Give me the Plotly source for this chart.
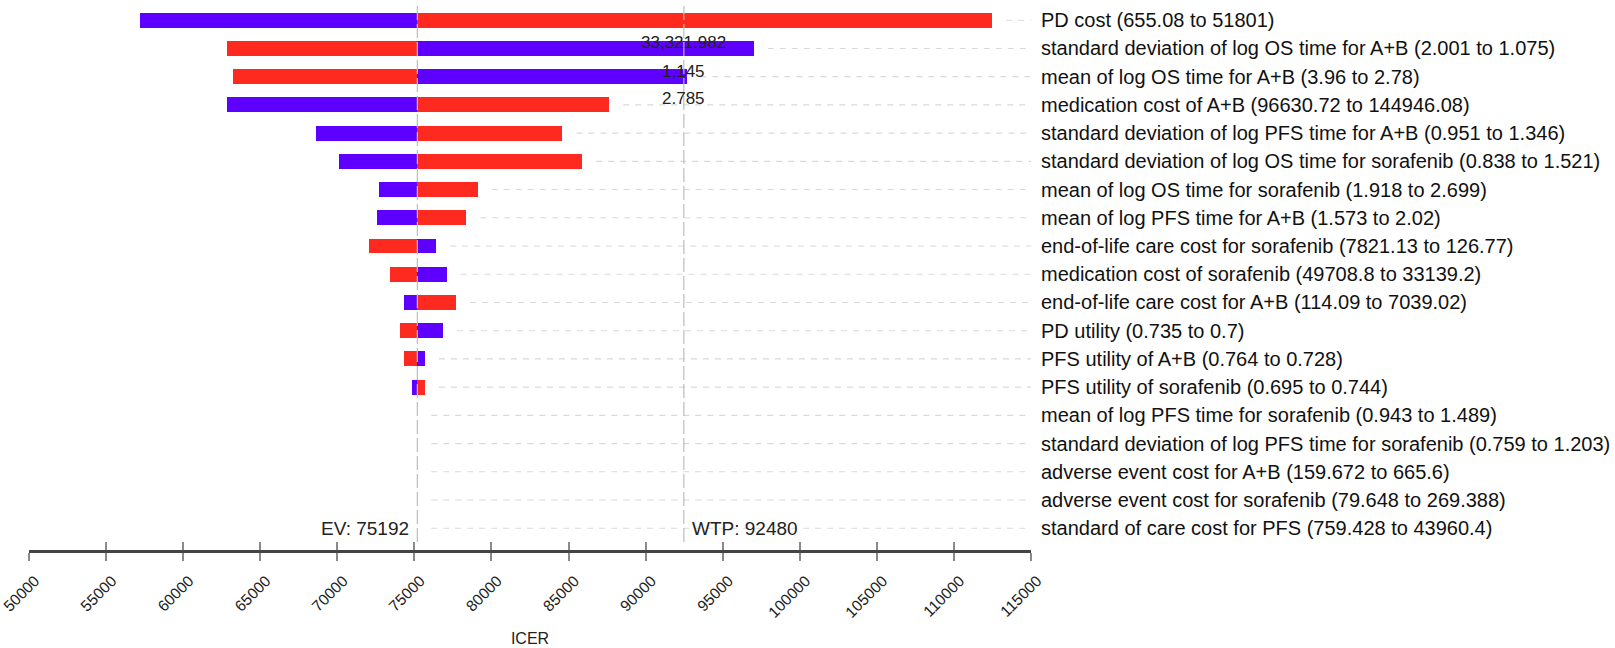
import plotly.graph_objects as go

# ---- data ----
params = [
    "PD cost (655.08 to 51801)",
    "standard deviation of log OS time for A+B (2.001 to 1.075)",
    "mean of log OS time for A+B (3.96 to 2.78)",
    "medication cost of A+B (96630.72 to 144946.08)",
    "standard deviation of log PFS time for A+B (0.951 to 1.346)",
    "standard deviation of log OS time for sorafenib (0.838 to 1.521)",
    "mean of log OS time for sorafenib (1.918 to 2.699)",
    "mean of log PFS time for A+B (1.573 to 2.02)",
    "end-of-life care cost for sorafenib (7821.13 to 126.77)",
    "medication cost of sorafenib (49708.8 to 33139.2)",
    "end-of-life care cost for A+B (114.09 to 7039.02)",
    "PD utility (0.735 to 0.7)",
    "PFS utility of A+B (0.764 to 0.728)",
    "PFS utility of sorafenib (0.695 to 0.744)",
    "mean of log PFS time for sorafenib (0.943 to 1.489)",
    "standard deviation of log PFS time for sorafenib (0.759 to 1.203)",
    "adverse event cost for A+B (159.672 to 665.6)",
    "adverse event cost for sorafenib (79.648 to 269.388)",
    "standard of care cost for PFS (759.428 to 43960.4)",
]
ev = 75192
wtp = 92480
icer_blue = [57227, 97022, 92654, 62861, 68596, 70133, 72700, 72590, 76418, 77084,
             74332, 76869, 75687, 74826, 75192, 75192, 75192, 75192, 75192]
icer_red = [112483, 62861, 63209, 87640, 84604, 85895, 79110, 78374, 72031, 73407,
            77708, 74052, 74332, 75687, 75192, 75192, 75192, 75192, 75192]
wtp_notes = ["33,321.982", "1,145", "2.785"]
wtp_note_rows = [1, 2, 3]
x_ticks = list(range(50000, 115001, 5000))

# ---- style ----
BLUE = "#5E00FF"
RED = "#FF2A1F"
FONT = "Liberation Sans, Arial, sans-serif"
x_range = [50000, 115000]
M_L, M_R, M_T, M_B = 24, 584, 0, 98
plot_w_px = 1615 - M_L - M_R
units_per_px = (x_range[1] - x_range[0]) / plot_w_px
gap_units = 14 * units_per_px
n = len(params)

ypos = list(range(n))

fig = go.Figure()
fig.add_trace(go.Bar(
    y=ypos, x=[v - ev for v in icer_blue], base=ev, orientation="h",
    marker=dict(color=BLUE, line=dict(width=0)), width=0.53, showlegend=False,
))
fig.add_trace(go.Bar(
    y=ypos, x=[v - ev for v in icer_red], base=ev, orientation="h",
    marker=dict(color=RED, line=dict(width=0)), width=0.53, showlegend=False,
))

# dashed guide lines from bar end to right edge
gx, gy = [], []
for i, (b, r) in enumerate(zip(icer_blue, icer_red)):
    start = max(b, r, ev) + gap_units
    if start < x_range[1]:
        gx += [start, x_range[1], None]
        gy += [i, i, None]
fig.add_trace(go.Scatter(
    x=gx, y=gy, mode="lines", line=dict(color="#d9d9d9", width=1.1, dash="6px,6px"),
    showlegend=False, hoverinfo="skip",
))

# reference lines
for xv in (ev, wtp):
    fig.add_shape(type="line", x0=xv, x1=xv, y0=-0.5, y1=n - 0.5,
                  xref="x", yref="y", line=dict(color="#bdbdbd", width=1.2, dash="14px,4px"),
                  layer="above")

fig.add_annotation(x=ev, y=n - 1, text="EV: 75192", xanchor="right", xshift=-6,
                   showarrow=False, font=dict(family=FONT, size=19, color="#222"))
fig.add_annotation(x=wtp, y=n - 1, text="WTP: 92480", xanchor="left", xshift=6,
                   showarrow=False, font=dict(family=FONT, size=19, color="#222"))
for txt, row, ys in zip(wtp_notes, wtp_note_rows, [6, 5, 6]):
    fig.add_annotation(x=wtp, y=row, text=txt, xanchor="center", yshift=ys,
                       showarrow=False, font=dict(family=FONT, size=17, color="#222"))

fig.update_layout(
    width=1615, height=648,
    margin=dict(l=M_L, r=M_R, t=M_T, b=M_B),
    plot_bgcolor="white", paper_bgcolor="white",
    barmode="overlay", bargap=0,
    font=dict(family=FONT, size=14, color="#222"),
    xaxis=dict(
        range=x_range, tickvals=x_ticks, ticktext=[str(t) for t in x_ticks],
        tickangle=-45, ticks="outside", ticklen=8, tickcolor="#8a8a8a", tickwidth=1.5,
        showline=True, linecolor="#444", linewidth=2.5, showgrid=False, zeroline=False,
        title=dict(text="ICER", standoff=14, font=dict(size=16)),
        tickfont=dict(size=15.5, color="#222"),
        ticklabeloverflow="allow", ticklabelshift=6, ticklabelstandoff=5,
    ),
    xaxis2=dict(
        range=x_range, overlaying="x", side="bottom", anchor="y",
        tickvals=x_ticks, ticks="inside", ticklen=8, tickcolor="#8a8a8a", tickwidth=1.5,
        showticklabels=False, showgrid=False, zeroline=False, showline=False,
    ),
    yaxis=dict(
        range=[n - 1 + 0.77, -0.716], side="right",
        tickvals=ypos, ticktext=params, ticks="", ticklabelstandoff=9,
        showgrid=False, zeroline=False, showline=False,
        tickfont=dict(size=20, color="#111"),
    ),
)
fig.add_trace(go.Scatter(x=[None], y=[None], xaxis="x2", showlegend=False, hoverinfo="skip"))

fig.write_html("out.html", config={"displayModeBar": False},
               post_script="document.body.style.margin='0';document.body.style.overflow='hidden';")
